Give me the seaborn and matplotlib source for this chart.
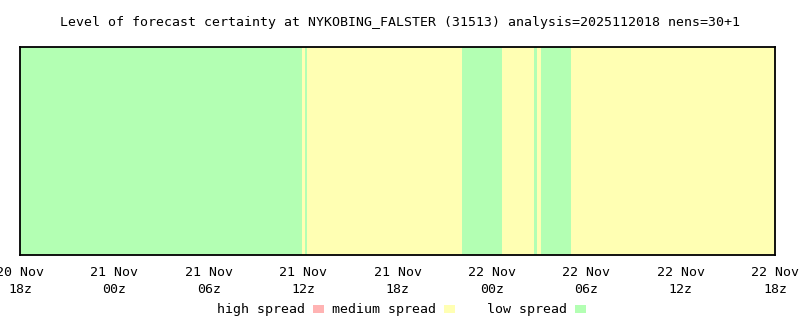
import matplotlib
matplotlib.use("Agg")
import matplotlib.pyplot as plt
import seaborn as sns
import pandas as pd
from matplotlib.patches import Rectangle

# ---- data ----
title = "Level of forecast certainty at NYKOBING_FALSTER (31513) analysis=2025112018 nens=30+1"
categories = ["high spread", "medium spread", "low spread"]
category_colors = ["#ffb3b3", "#ffffb3", "#b3ffb3"]
# segments (hours since 20 Nov 18z)
seg_start = [0.0, 17.9, 18.15, 18.22, 28.1, 30.65, 32.65, 32.85, 33.1, 35.05]
seg_end = [17.9, 18.15, 18.22, 28.1, 30.65, 32.65, 32.85, 33.1, 35.05, 48.0]
seg_level = ["low spread", "medium spread", "low spread", "medium spread", "low spread",
             "medium spread", "low spread", "medium spread", "low spread", "medium spread"]
tick_hours = [0, 6, 12, 18, 24, 30, 36, 42, 48]
tick_labels = ["20 Nov\n18z", "21 Nov\n00z", "21 Nov\n06z", "21 Nov\n12z", "21 Nov\n18z",
               "22 Nov\n00z", "22 Nov\n06z", "22 Nov\n12z", "22 Nov\n18z"]

df = pd.DataFrame({"start": seg_start, "end": seg_end, "level": seg_level})
df["width"] = df["end"] - df["start"]
cmap = dict(zip(categories, category_colors))

sns.set_style("white")
plt.rcParams["font.family"] = ["DejaVu Sans Mono", "DejaVu Sans"]

fig = plt.figure(figsize=(8, 3.2), dpi=100)
ax = fig.add_axes([20 / 800, 1 - 255 / 320, 755 / 800, 208 / 320])

ax.barh(y=[0.5] * len(df), width=df["width"], left=df["start"], height=1.0,
        color=[cmap[l] for l in df["level"]], edgecolor="none", linewidth=0)

ax.set_xlim(0, 48)
ax.set_ylim(0, 1)
ax.set_yticks([])
ax.set_xticks(tick_hours)
ax.set_xticklabels(tick_labels, fontsize=9.5, linespacing=1.38)
ax.tick_params(axis="x", length=0, pad=8, colors="black")
for s in ax.spines.values():
    s.set_visible(True)
    s.set_color("black")
    s.set_linewidth(1.3)

fig.text(400 / 800, 1 - 22.5 / 320, title, ha="center", va="center", fontsize=9.5, color="black")

# legend
text_x = [217, 332, 487]
box_x = [313, 444, 575]
ly = 1 - 309 / 320
for name, col, tx, bx in zip(categories, category_colors, text_x, box_x):
    fig.text(tx / 800, ly, name, ha="left", va="center", fontsize=9.5, color="black")
    fig.add_artist(Rectangle((bx / 800, 1 - 313 / 320), 11 / 800, 8 / 320,
                             transform=fig.transFigure, facecolor=col, edgecolor="none"))

fig.savefig("out.png", dpi=100)
